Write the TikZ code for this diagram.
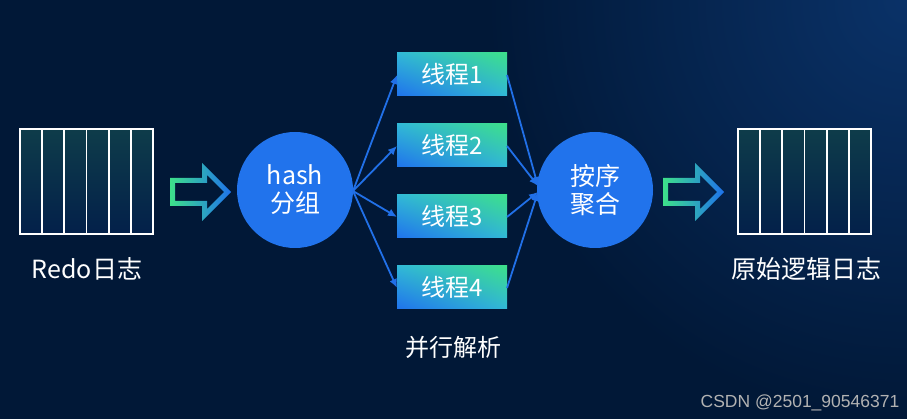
\documentclass[tikz,border=0pt]{standalone}
\usepackage{fontspec}
\setmainfont{Noto Sans CJK SC}
\newfontfamily\wmfont{Liberation Sans}
\usetikzlibrary{arrows.meta,shadings}
\definecolor{bg}{HTML}{011837}
\definecolor{bgr}{HTML}{0A3268}
\definecolor{circ}{HTML}{2173EC}
\definecolor{arr}{HTML}{2170E8}
\definecolor{gr}{HTML}{3DE08A}
\definecolor{bl}{HTML}{1F72EC}
\definecolor{mid}{HTML}{31B8D8}
\definecolor{logtop}{HTML}{0E3C4A}
\definecolor{logbot}{HTML}{03204A}
\tikzset{
  txt/.style={text=white, font=\fontsize{25}{28}\selectfont, inner sep=0pt},
  ttxt/.style={text=white, font=\fontsize{24}{28}\selectfont, inner sep=0pt},
  bigc/.style={circle, fill=circ, minimum size=116pt, inner sep=0pt, text=white, align=center, font=\fontsize{25}{30}\selectfont},
  con/.style={draw=arr, line width=1.8pt, -{Latex[length=9pt,width=8pt]}},
}
\newcommand{\logpanel}[2]{%
  \shade[top color=logtop, bottom color=logbot] (#1,#2) rectangle ++(133,105);
  \foreach \i in {1,...,5} \draw[white, line width=1.8pt] ({#1+\i*133/6},#2) -- ++(0,105);
  \draw[white, line width=1.8pt] (#1,#2) rectangle ++(133,105);
}
\newcommand{\hollowarrow}[1]{%
  \shade[left color=gr, right color=bl, even odd rule]
    (#1,178) -- ({#1+32},178) -- ({#1+32},163) -- ({#1+61},192) -- ({#1+32},221) -- ({#1+32},206) -- (#1,206) -- cycle
    ({#1+5},183) -- ({#1+37},183) -- ({#1+37},175) -- ({#1+54},192) -- ({#1+37},209) -- ({#1+37},201) -- ({#1+5},201) -- cycle;
}
\newcommand{\threadbox}[3]{%
  \shade[upper right=gr, lower left=bl, upper left=mid, lower right=mid] (397,#2) rectangle (507,{#2+43});
  \node[ttxt] (#1) at (452,{#2+21.5}) {#3};
  \coordinate (#1l) at (397,{#2+22});
  \coordinate (#1r) at (507,{#2+22});
}
\begin{document}
\begin{tikzpicture}[x=1pt,y=-1pt]
\fill[bg] (0,0) rectangle (907,419);
\begin{scope}
\clip (0,0) rectangle (907,419);
\shade[inner color=bgr, outer color=bg] (907,0) circle[radius=420];
\end{scope}
\useasboundingbox (0,0) rectangle (907,419);

% left log
\logpanel{20}{129}
\node[txt] (redo) at (87,269) {Redo日志};
\hollowarrow{170}

% hash circle
\node[bigc] (hash) at (295,190) {hash\\[-2pt]分组};
\coordinate (hs) at (353,191);

% threads
\threadbox{t1}{53}{线程1}
\threadbox{t2}{124}{线程2}
\threadbox{t3}{195}{线程3}
\threadbox{t4}{266}{线程4}

% sort circle
\node[bigc] (sort) at (595,190) {按序\\[-2pt]聚合};
\coordinate (se1) at (538,186);
\coordinate (se2) at (538,192);

\draw[con] (hs) -- (t1l);
\draw[con] (hs) -- (t2l);
\draw[con] (hs) -- (t3l);
\draw[con] (hs) -- (t4l);
\draw[con] (t1r) -- (se1);
\draw[con] (t2r) -- (se1);
\draw[con] (t3r) -- (se2);
\draw[con] (t4r) -- (se2);

\node[ttxt] (par) at (453,347) {并行解析};

% right side
\hollowarrow{663}
\logpanel{738}{129}
\node[txt] (orig) at (806,269) {原始逻辑日志};

\node[text=gray!60!white, font=\wmfont\fontsize{17.5}{20}\selectfont, inner sep=0pt] (wm) at (800,403) {CSDN @2501\_90546371};
\end{tikzpicture}
\end{document}
